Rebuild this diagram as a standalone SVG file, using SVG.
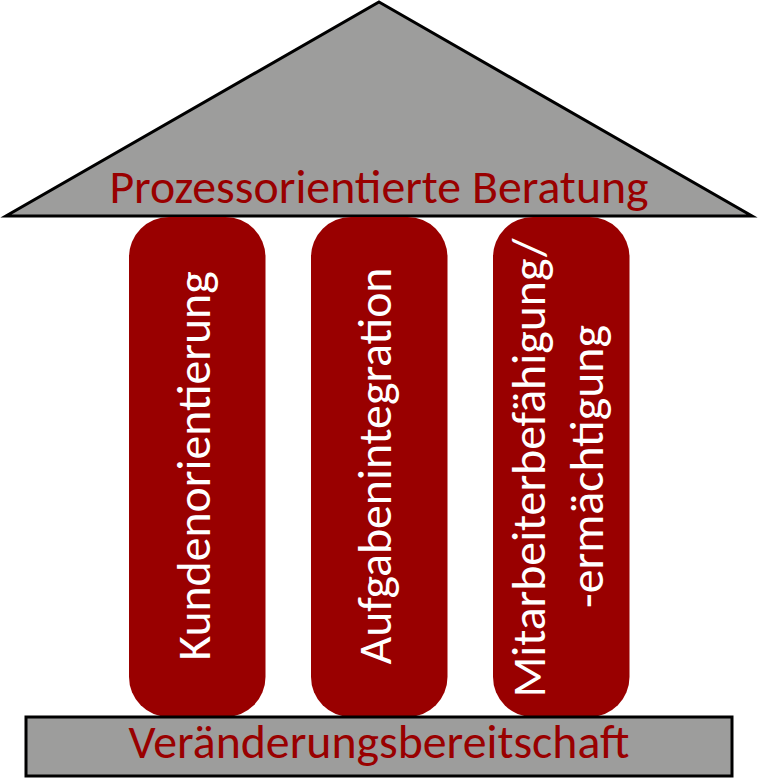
<svg xmlns="http://www.w3.org/2000/svg" width="758" height="779" viewBox="0 0 758 779">
<style>
text{font-family:Carlito,Lato,"Open Sans",sans-serif;font-size:47.8px}
.r{fill:#990000}
.w{fill:#fff;text-anchor:middle}
.b{fill:#9d9d9c;stroke:#000;stroke-width:3}
.d{fill:#990000;text-anchor:middle}
</style>
<g id="roof"><polygon class="b" points="379,2 752,216 6,216"/><text class="d" x="379" y="203">Prozessorientierte Beratung</text></g>
<g id="pillar1"><rect class="r" x="129" y="217" width="136.500" height="500" rx="40"/><text class="w" transform="translate(209.500,466) rotate(-90)">Kundenorientierung</text></g>
<g id="pillar2"><rect class="r" x="311" y="217" width="136.500" height="500" rx="40"/><text class="w" transform="translate(391,466) rotate(-90)">Aufgabenintegration</text></g>
<g id="pillar3"><rect class="r" x="493" y="217" width="136.500" height="500" rx="40"/><text class="w" transform="translate(545,468) rotate(-90)">Mitarbeiterbefähigung/</text><text class="w" transform="translate(602.500,466.500) rotate(-90)">-ermächtigung</text></g>
<g id="base"><rect class="b" x="26" y="717" width="706" height="59"/><text class="d" x="379" y="758">Veränderungsbereitschaft</text></g>
<g id="connectors"></g>
</svg>
